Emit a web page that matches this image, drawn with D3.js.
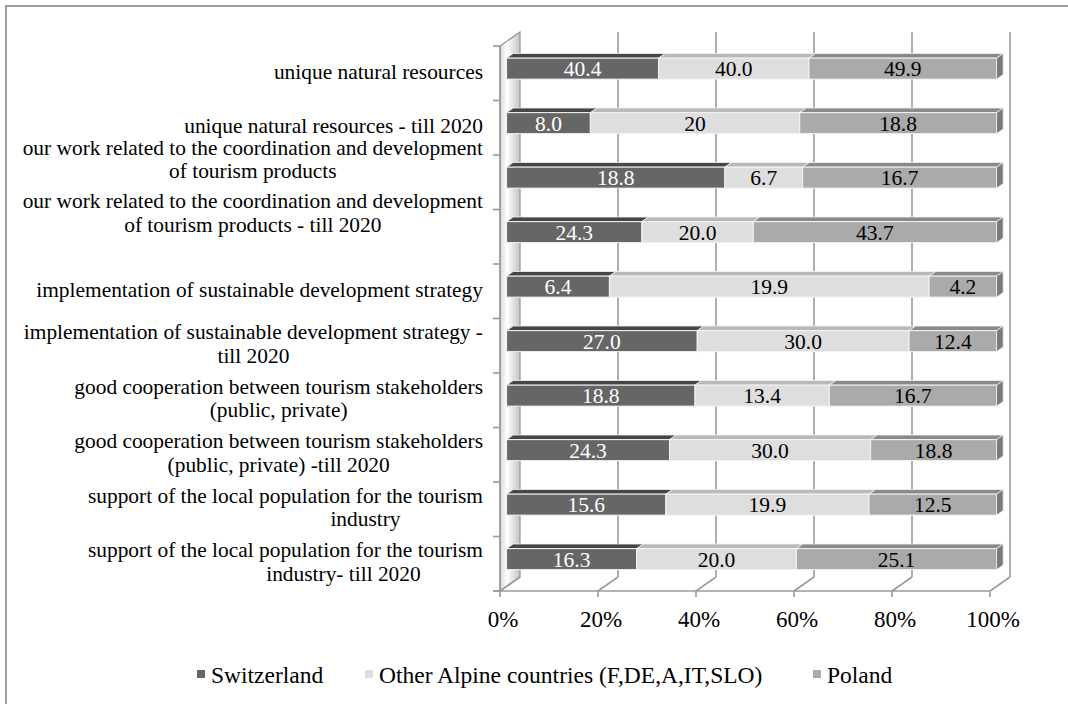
<!DOCTYPE html>
<html>
<head>
<meta charset="utf-8">
<script src="https://cdn.jsdelivr.net/npm/d3@7"></script>
<style>
  body { margin: 0; background: #fff; }
  svg { display: block; }
  text { font-family: "Liberation Serif", "Times New Roman", serif; }
</style>
</head>
<body>
<svg id="chart" width="1068" height="704"></svg>
<script>
// Category labels, top to bottom ("\n" marks a line break)
const categories = [
  "unique natural resources",
  "unique natural resources - till 2020",
  "our work related to the coordination and development\nof tourism products",
  "our work related to the coordination and development\nof tourism products - till 2020",
  "implementation of sustainable development strategy",
  "implementation of sustainable development strategy -\ntill 2020",
  "good cooperation between tourism stakeholders\n(public, private)",
  "good cooperation between tourism stakeholders\n(public, private) -till 2020",
  "support of the local population for the tourism\nindustry",
  "support of the local population for the tourism\nindustry- till 2020"
];

// Series values, as printed on the bars
const switzerland = ["40.4", "8.0", "18.8", "24.3", "6.4", "27.0", "18.8", "24.3", "15.6", "16.3"];
const otherAlpine = ["40.0", "20", "6.7", "20.0", "19.9", "30.0", "13.4", "30.0", "19.9", "20.0"];
const poland      = ["49.9", "18.8", "16.7", "43.7", "4.2", "12.4", "16.7", "18.8", "12.5", "25.1"];

const seriesNames = ["Switzerland", "Other Alpine countries (F,DE,A,IT,SLO)", "Poland"];
const tickLabels = ["0%", "20%", "40%", "60%", "80%", "100%"];

// ---- styling ----
const faceColor = ["#666666", "#dedede", "#aaaaaa"];
const topColor  = ["#464646", "#b9b9b9", "#8a8a8a"];
const sideColor = ["#4a4a4a", "#a8a8a8", "#7a7a7a"];
const labelColor = ["#ffffff", "#000000", "#000000"];
const gridColor = "#9a9a9a";

// ---- layout of the 3D box ----
const plot = { left: 500, right: 990, top: 46, bottom: 591 };
const depth = { dx: 20, dy: -14 };          // full wall depth offset
const off = d => [depth.dx * d, depth.dy * d];
const barFront = 0.33, barBack = 0.66, barH = 21;
const labelNudge = { 2: -21, 3: -22 };      // multi-line labels lifted in these rows
const secondLineShift = { 8: 80, 9: 58 };   // second label lines set off to the right

const svg = d3.select("#chart");

// frame
svg.append("rect")
  .attr("x", 6).attr("y", 6).attr("width", 1080).attr("height", 720)
  .attr("fill", "none").attr("stroke", "#9c9c9c").attr("stroke-width", 2);

const x = d3.scaleLinear().domain([0, 1]).range([plot.left, plot.right]);
const y = d3.scaleBand().domain(d3.range(categories.length)).range([plot.top, plot.bottom]);

// stacked, normalised to 100%
const rows = categories.map((c, i) => ({
  s0: +switzerland[i], s1: +otherAlpine[i], s2: +poland[i]
}));
const stack = d3.stack().keys(["s0", "s1", "s2"]).offset(d3.stackOffsetExpand);
const stacked = stack(rows);
const rawLabels = [switzerland, otherAlpine, poland];

const defs = svg.append("defs");
const wallGrad = defs.append("linearGradient").attr("id", "wallGrad")
  .attr("x1", "0").attr("x2", "1").attr("y1", "0").attr("y2", "0");
wallGrad.append("stop").attr("offset", "0%").attr("stop-color", "#d6d6d6");
wallGrad.append("stop").attr("offset", "35%").attr("stop-color", "#ffffff");
wallGrad.append("stop").attr("offset", "100%").attr("stop-color", "#c4c4c4");

const [fdx, fdy] = off(1);
const line = d3.line();

// left side wall
svg.append("path")
  .attr("d", line([[plot.left, plot.top], [plot.left + fdx, plot.top + fdy],
                   [plot.left + fdx, plot.bottom + fdy], [plot.left, plot.bottom]]) + "Z")
  .attr("fill", "url(#wallGrad)").attr("stroke", gridColor).attr("stroke-width", 1.3);

// back wall gridlines
const gridTicks = x.ticks(5);
svg.append("g").selectAll("line").data(gridTicks.filter(t => t > 0)).join("line")
  .attr("x1", d => x(d) + fdx).attr("x2", d => x(d) + fdx)
  .attr("y1", plot.top + fdy).attr("y2", plot.bottom + fdy)
  .attr("stroke", gridColor).attr("stroke-width", 1.6);

// floor: front edge, diagonals to the back wall
svg.append("line")
  .attr("x1", plot.left - 7).attr("x2", plot.right)
  .attr("y1", plot.bottom).attr("y2", plot.bottom)
  .attr("stroke", gridColor).attr("stroke-width", 1.6);
svg.append("g").selectAll("path").data(gridTicks).join("path")
  .attr("d", d => line([[x(d), plot.bottom + 6], [x(d), plot.bottom], [x(d) + fdx, plot.bottom + fdy]]))
  .attr("fill", "none").attr("stroke", gridColor).attr("stroke-width", 1.6);

// left axis ticks at the category boundaries
const bounds = d3.range(categories.length + 1).map(k => plot.top + k * y.step());
svg.append("g").selectAll("line").data(bounds).join("line")
  .attr("x1", plot.left - 7).attr("x2", plot.left)
  .attr("y1", d => d).attr("y2", d => d)
  .attr("stroke", gridColor).attr("stroke-width", 1.6);
svg.append("line")
  .attr("x1", plot.left).attr("x2", plot.left)
  .attr("y1", plot.top).attr("y2", plot.bottom)
  .attr("stroke", gridColor).attr("stroke-width", 1.6);

// bars
const [bx, by] = off(barFront);
const [ddx, ddy] = off(barBack - barFront);
const barLayer = svg.append("g");
categories.forEach((c, i) => {
  const yTop = y(i) + y.bandwidth() / 2 - barH / 2 + by;
  stacked.forEach((s, k) => {
    const seg = s[i];
    const x0 = x(seg[0]) + bx, x1 = x(seg[1]) + bx;
    // top face
    barLayer.append("path")
      .attr("d", line([[x0, yTop], [x1, yTop], [x1 + ddx, yTop + ddy], [x0 + ddx, yTop + ddy]]) + "Z")
      .attr("fill", topColor[k]).attr("stroke", "#f2f2f2").attr("stroke-width", 0.8);
    // front face
    barLayer.append("rect")
      .attr("x", x0).attr("y", yTop).attr("width", x1 - x0).attr("height", barH)
      .attr("fill", faceColor[k]).attr("stroke", "#f4f4f4").attr("stroke-width", 1);
    // right end
    if (k === stacked.length - 1) {
      barLayer.append("path")
        .attr("d", line([[x1, yTop], [x1 + ddx, yTop + ddy], [x1 + ddx, yTop + ddy + barH], [x1, yTop + barH]]) + "Z")
        .attr("fill", sideColor[k]).attr("stroke", "#f2f2f2").attr("stroke-width", 0.8);
    }
    // value label
    barLayer.append("text")
      .attr("x", (x0 + x1) / 2).attr("y", yTop + barH / 2)
      .attr("dy", "0.35em").attr("text-anchor", "middle")
      .attr("font-size", 21.5).attr("fill", labelColor[k])
      .text(rawLabels[k][i]);
  });
});

// category labels: block right-aligned, lines centred within the block
const catLayer = svg.append("g");
const lineH = 23.5;
categories.forEach((c, i) => {
  const lines = c.split("\n");
  const g = catLayer.append("g");
  const texts = lines.map(l => g.append("text").attr("font-size", 21.4).attr("fill", "#000").text(l));
  const widths = texts.map(t => t.node().getComputedTextLength());
  const maxW = d3.max(widths);
  const cx = 483 - maxW / 2;
  const yc = y(i) + y.bandwidth() / 2 - 2 + (labelNudge[i] || 0);
  texts.forEach((t, j) => {
    t.attr("x", cx + (j > 0 ? (secondLineShift[i] || 0) : 0)).attr("text-anchor", "middle")
     .attr("y", yc + (j - (lines.length - 1) / 2) * lineH).attr("dy", "0.35em");
  });
});

// bottom axis labels
svg.append("g").selectAll("text").data(gridTicks).join("text")
  .attr("x", d => x(d) + 3).attr("y", plot.bottom + 36)
  .attr("text-anchor", "middle").attr("font-size", 23).attr("fill", "#000")
  .text((d, i) => tickLabels[i]);

// legend
const legendX = [197, 365, 813];
const legend = svg.append("g");
seriesNames.forEach((n, k) => {
  legend.append("rect").attr("x", legendX[k]).attr("y", 670).attr("width", 8).attr("height", 8)
    .attr("fill", faceColor[k]);
  legend.append("text").attr("x", legendX[k] + 14).attr("y", 675).attr("dy", "0.35em")
    .attr("font-size", 23.5).attr("fill", "#000").text(n);
});
</script>
</body>
</html>
